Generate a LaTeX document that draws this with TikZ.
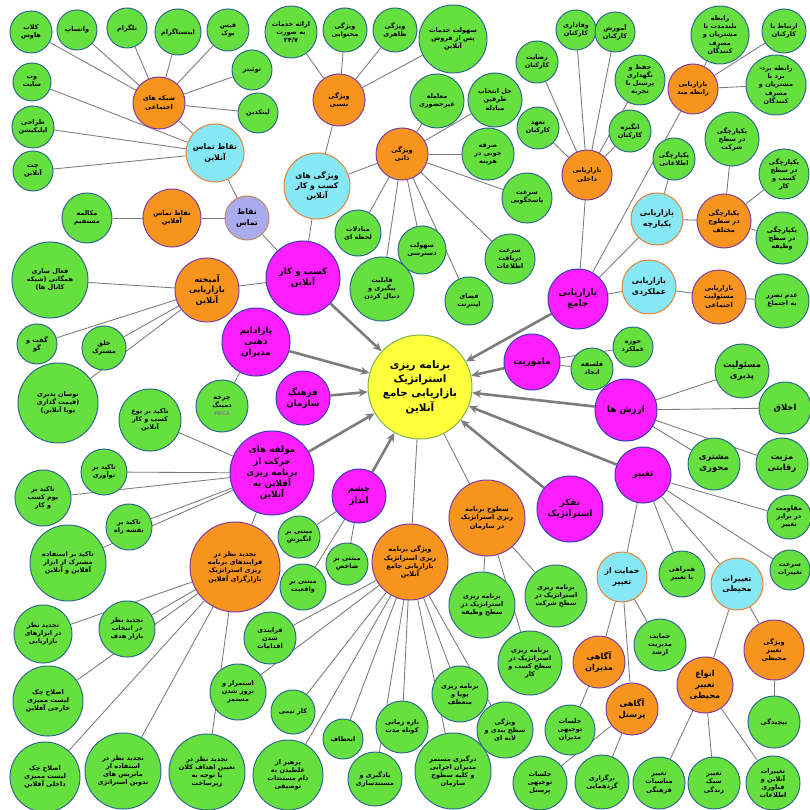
\documentclass[tikz,border=0pt]{standalone}
\usepackage{fontspec}
\newfontfamily\ar[Script=Arabic]{DejaVu Sans}
\TeXXeTstate=1
\usetikzlibrary{arrows.meta}
\pgfdeclarelayer{back}
\pgfdeclarelayer{bg}
\pgfsetlayers{back,bg,main}
\definecolor{grf}{HTML}{66E03E}
\definecolor{grb}{HTML}{2F6A8C}
\definecolor{orf}{HTML}{F7941E}
\definecolor{orb}{HTML}{7B3FA0}
\definecolor{mgf}{HTML}{FF1EFF}
\definecolor{mgb}{HTML}{3A3AB0}
\definecolor{cyf}{HTML}{86E8F4}
\definecolor{cyb}{HTML}{E5823A}
\definecolor{ylf}{HTML}{FFFF3C}
\definecolor{ylb}{HTML}{7AB648}
\definecolor{lvf}{HTML}{AAAAEE}
\definecolor{lvb}{HTML}{C08A60}
\definecolor{edc}{HTML}{7A7A7A}
\definecolor{arc}{HTML}{7C7C7C}
\newcommand{\rtx}[1]{\beginR#1\endR}
\newcommand{\fgr}{\ar\bfseries\fontsize{6.5}{8.1}\selectfont}
\newcommand{\fgb}{\ar\bfseries\fontsize{8.4}{11}\selectfont}
\newcommand{\forg}{\ar\bfseries\fontsize{6.6}{8.4}\selectfont}
\newcommand{\fob}{\ar\bfseries\fontsize{8.2}{10.8}\selectfont}
\newcommand{\fmag}{\ar\bfseries\fontsize{8.8}{11.2}\selectfont}
\newcommand{\fcy}{\ar\bfseries\fontsize{7.8}{10.2}\selectfont}
\newcommand{\fyl}{\ar\bfseries\fontsize{10.4}{14.4}\selectfont}
\newcommand{\nd}[6]{\node[#1, minimum size={2*#5pt}] (#2) at (#3,#4) {#6};}
\tikzset{
  base/.style={circle, line width=1pt, inner sep=0pt, align=center, text=black},
  gn/.style={base, fill=grf, draw=grb, font=\fgr},
  gnb/.style={base, fill=grf, draw=grb, font=\fgb},
  og/.style={base, fill=orf, draw=orb, font=\forg},
  ogb/.style={base, fill=orf, draw=orb, font=\fob},
  mg/.style={base, fill=mgf, draw=mgb, font=\fmag},
  cy/.style={base, fill=cyf, draw=cyb, font=\fcy},
  yl/.style={base, fill=ylf, draw=ylb, font=\fyl},
  lv/.style={base, fill=lvf, draw=lvb, font=\fcy},
  ed/.style={draw=edc, line width=0.85pt},
  arw/.style={draw=arc, line width=2.6pt, -{Stealth[length=9pt,width=8pt]}}
}
\begin{document}
\begin{tikzpicture}[x=1pt,y=-1pt]
\useasboundingbox (0,0) rectangle (809,810);
\begin{pgfonlayer}{back}
\fill[white] (0,0) rectangle (809,810);
\end{pgfonlayer}
% centre
\nd{yl}{C}{420}{387}{52}{\rtx{برنامه ریزی}\\\rtx{استراتژیک}\\\rtx{بازاریابی جامع}\\\rtx{آنلاین}}
% top-left
\nd{gn}{clab}{31}{32}{21}{\rtx{کلاب}\\\rtx{هاوس}}
\nd{gn}{wats}{77}{30}{20}{\rtx{واتساپ}}
\nd{gn}{tele}{127}{28}{20}{\rtx{تلگرام}}
\nd{gn}{insta}{178}{32}{23}{\rtx{اینستاگرام}}
\nd{gn}{fb}{228}{30}{21}{\rtx{فیس}\\\rtx{بوک}}
\nd{gn}{tw}{252}{70}{20}{\rtx{توئیتر}}
\nd{gn}{lnk}{258}{113}{20}{\rtx{لینکدین}}
\nd{og}{shab}{159}{103}{26}{\rtx{شبکه های}\\\rtx{اجتماعی}}
\nd{gn}{web}{32}{82}{19}{\rtx{وب}\\\rtx{سایت}}
\nd{gn}{app}{33}{127}{21}{\rtx{طراحی}\\\rtx{اپلیکیشن}}
\nd{gn}{chat}{33}{171}{20}{\rtx{چت}\\\rtx{آنلاین}}
\nd{cy}{ntOn}{215}{153}{29}{\rtx{نقاط تماس}\\\rtx{آنلاین}}
\nd{gn}{mok}{87}{218}{25}{\rtx{مکالمه}\\\rtx{مستقیم}}
\nd{og}{ntOff}{172}{218}{29}{\rtx{نقاط تماس}\\\rtx{آفلاین}}
\nd{lv}{nt}{247}{218}{22}{\rtx{نقاط}\\\rtx{تماس}}
\nd{ogb}{amikh}{207}{290}{32}{\rtx{آمیخته}\\\rtx{بازاریابی}\\\rtx{آنلاین}}
\nd{gn}{faal}{50}{280}{38}{\rtx{فعال سازی}\\\rtx{همگانی (شبکه}\\\rtx{کانال ها)}}
\nd{gn}{goft}{37}{344}{20}{\rtx{گفت و}\\\rtx{گو}}
\nd{gn}{khalgh}{104}{348}{22}{\rtx{خلق}\\\rtx{مشترک}}
\nd{gn}{nosan}{58}{403}{40}{\rtx{نوسان پذیری}\\\rtx{(قیمت گذاری}\\\rtx{پویا آنلاین)}}
\nd{mg}{parad}{256}{342}{34}{\rtx{پارادایم}\\\rtx{ذهنی}\\\rtx{مدیران}}
\nd{gn}{deming}{222}{406}{26}{\rtx{چرخه}\\\rtx{دمینگ}\\{\color{gray}\fontsize{5}{6}\selectfont PDCA}}
\nd{gn}{tnoe}{150}{420}{31}{\rtx{تاکید بر نوع}\\\rtx{کسب و کار}\\\rtx{آنلاین}}
\nd{mg}{farh}{303}{398}{27}{\rtx{فرهنگ}\\\rtx{سازمان}}
\nd{mg}{molf}{272}{473}{42}{\rtx{مولفه های}\\\rtx{حرکت از}\\\rtx{برنامه ریزی}\\\rtx{آفلاین به}\\\rtx{آنلاین}}
\nd{gn}{tnoav}{104}{472}{23}{\rtx{تاکید بر}\\\rtx{نوآوری}}
\nd{gn}{tboom}{43}{498}{28}{\rtx{تاکید بر}\\\rtx{بوم کسب}\\\rtx{و کار}}
\nd{gn}{tnaghs}{129}{527}{23}{\rtx{تاکید بر}\\\rtx{نقشه راه}}
\nd{gn}{testef}{68}{563}{38}{\rtx{تاکید بر استفاده}\\\rtx{مشترک از ابزار}\\\rtx{آفلاین و آنلاین}}
\nd{og}{tajd}{235}{567}{45}{\rtx{تجدید نظر در}\\\rtx{فرایندهای برنامه}\\\rtx{ریزی استراتژیک}\\\rtx{بازارگرای آفلاین}}
\nd{mg}{chesh}{359}{496}{27}{\rtx{چشم}\\\rtx{انداز}}
\nd{gn}{mangiz}{299}{537}{21}{\rtx{مبتنی بر}\\\rtx{انگیزش}}
\nd{gn}{mshakh}{347}{564}{21}{\rtx{مبتنی بر}\\\rtx{شاخص}}
\nd{gn}{mvagh}{303}{587}{23}{\rtx{مبتنی بر}\\\rtx{واقعیت}}
\nd{og}{vbar}{410}{562}{38}{\rtx{ویژگی برنامه}\\\rtx{ریزی استراتژیک}\\\rtx{بازاریابی جامع}\\\rtx{آنلاین}}
\nd{og}{sotoh}{487}{518}{38}{\rtx{سطوح برنامه}\\\rtx{ریزی استراتژیک}\\\rtx{در سازمان}}
\nd{mg}{tafak}{570}{509}{33}{\rtx{تفکر}\\\rtx{استراتژیک}}
\nd{mg}{taghir}{643}{475}{28}{\rtx{تغییر}}
\nd{mg}{arzesh}{626}{410}{31}{\rtx{ارزش ها}}
\nd{gnb}{akhlagh}{785}{408}{26}{\rtx{اخلاق}}
\nd{gnb}{masol}{742}{371}{27}{\rtx{مسئولیت}\\\rtx{پذیری}}
\nd{gnb}{moshtari}{714}{464}{26}{\rtx{مشتری}\\\rtx{محوری}}
\nd{gnb}{mazit}{782}{464}{26}{\rtx{مزیت}\\\rtx{رقابتی}}
\nd{gn}{moghav}{789}{517}{22}{\rtx{مقاومت}\\\rtx{در برابر}\\\rtx{تغییر}}
\nd{gn}{sorTagh}{790}{570}{20}{\rtx{سرعت}\\\rtx{تغییرات}}
\nd{cy}{taghMoh}{737}{584}{26}{\rtx{تغییرات}\\\rtx{محیطی}}
\nd{gn}{hamrahi}{682}{574}{23}{\rtx{همراهی}\\\rtx{با تغییر}}
\nd{cy}{hemayat}{622}{577}{25}{\rtx{حمایت از}\\\rtx{تغییر}}
\nd{gn}{sSherkat}{556}{596}{31}{\rtx{برنامه ریزی}\\\rtx{استراتژیک در}\\\rtx{سطح شرکت}}
\nd{gn}{sVazife}{482}{605}{33}{\rtx{برنامه ریزی}\\\rtx{استراتژیک در}\\\rtx{سطح وظیفه}}
\nd{gn}{sKasb}{530}{663}{32}{\rtx{برنامه ریزی}\\\rtx{استراتژیک در}\\\rtx{سطح کسب و}\\\rtx{کار}}
\nd{ogb}{agMod}{599}{662}{26}{\rtx{آگاهی}\\\rtx{مدیران}}
\nd{gn}{hemMod}{660}{645}{26}{\rtx{حمایت}\\\rtx{مدیریت}\\\rtx{ارشد}}
\nd{ogb}{agPer}{632}{709}{26}{\rtx{آگاهی}\\\rtx{پرسنل}}
\nd{gn}{jalMod}{570}{730}{25}{\rtx{جلسات}\\\rtx{توجیهی}\\\rtx{مدیران}}
\nd{gn}{jalPer}{540}{783}{27}{\rtx{جلسات}\\\rtx{توجیهی}\\\rtx{پرسنل}}
\nd{gn}{bargozari}{602}{782}{27}{\rtx{برگزاری}\\\rtx{گردهمایی}}
\nd{ogb}{anvaa}{705}{685}{28}{\rtx{انواع}\\\rtx{تغییر}\\\rtx{محیطی}}
\nd{og}{vTagh}{774}{650}{30}{\rtx{ویژگی}\\\rtx{تغییر}\\\rtx{محیطی}}
\nd{gn}{pichid}{774}{722}{26}{\rtx{پیچیدگی}}
\nd{gn}{tMonas}{659}{783}{26}{\rtx{تغییر}\\\rtx{مناسبات}\\\rtx{فرهنگی}}
\nd{gn}{tSabk}{714}{783}{26}{\rtx{تغییر}\\\rtx{سبک}\\\rtx{زندگی}}
\nd{gn}{tOnline}{773}{783}{27}{\rtx{تغییرات}\\\rtx{آنلاین و}\\\rtx{فناوری}\\\rtx{اطلاعات}}
\nd{gn}{vSath}{505}{730}{28}{\rtx{ویژگی}\\\rtx{سطح بندی و}\\\rtx{لایه ای}}
\nd{gn}{bPuya}{460}{694}{28}{\rtx{برنامه ریزی}\\\rtx{پویا و}\\\rtx{منعطف}}
\nd{gn}{dargiri}{453}{771}{38}{\rtx{درگیری مستمر}\\\rtx{مدیران اجرایی}\\\rtx{و کلیه سطوح}\\\rtx{سازمان}}
\nd{gn}{baze}{402}{727}{26}{\rtx{بازه زمانی}\\\rtx{کوتاه مدت}}
\nd{gn}{yadgiri}{375}{779}{27}{\rtx{یادگیری و}\\\rtx{مستندسازی}}
\nd{gn}{enetaf}{343}{739}{20}{\rtx{انعطاف}}
\nd{gn}{parhiz}{288}{775}{35}{\rtx{پرهیز از}\\\rtx{غلطیدن به}\\\rtx{دام مستندات}\\\rtx{توصیفی}}
\nd{gn}{kartimi}{293}{712}{22}{\rtx{کار تیمی}}
\nd{gn}{estemrar}{238}{692}{28}{\rtx{استمرار و}\\\rtx{بروز شدن}\\\rtx{مستمر}}
\nd{gn}{farayandi}{270}{638}{26}{\rtx{فرایندی}\\\rtx{شدن}\\\rtx{اقدامات}}
\nd{gn}{tAbzar}{43}{634}{29}{\rtx{تجدید نظر}\\\rtx{در ابزارهای}\\\rtx{بازاریابی}}
\nd{gn}{tEntekhab}{127}{629}{28}{\rtx{تجدید نظر}\\\rtx{در انتخاب}\\\rtx{بازار هدف}}
\nd{gn}{esKharej}{48}{701}{35}{\rtx{اصلاح چک}\\\rtx{لیست ممیزی}\\\rtx{خارجی آفلاین}}
\nd{gn}{esDakhel}{45}{777}{35}{\rtx{اصلاح چک}\\\rtx{لیست ممیزی}\\\rtx{داخلی آفلاین}}
\nd{gn}{tMatris}{123}{771}{38}{\rtx{تجدید نظر در}\\\rtx{استفاده از}\\\rtx{ماتریس های}\\\rtx{تدوین استراتژی}}
\nd{gn}{tAhdaf}{207}{772}{38}{\rtx{تجدید نظر در}\\\rtx{تعیین اهداف کلان}\\\rtx{با توجه به}\\\rtx{زیرساخت}}
% top middle
\nd{gn}{eraee}{291}{32}{26}{\rtx{ارائه خدمات}\\\rtx{به صورت}\\۲۴/۷}
\nd{gn}{vMohtav}{345}{30}{22}{\rtx{ویژگی}\\\rtx{محتوایی}}
\nd{gn}{vZaher}{395}{30}{22}{\rtx{ویژگی}\\\rtx{ظاهری}}
\nd{gn}{sohKhad}{453}{39}{34}{\rtx{سهولت خدمات}\\\rtx{پس از فروش}\\\rtx{آنلاین}}
\nd{og}{vNesbi}{339}{100}{26}{\rtx{ویژگی}\\\rtx{نسبی}}
\nd{cy}{vKasb}{317}{186}{33}{\rtx{ویژگی های}\\\rtx{کسب و کار}\\\rtx{آنلاین}}
\nd{gn}{moamele}{437}{101}{27}{\rtx{معامله}\\\rtx{غیرحضوری}}
\nd{gn}{hal}{495}{100}{27}{\rtx{حل انتخاب}\\\rtx{طرفین}\\\rtx{مبادله}}
\nd{og}{vZati}{402}{154}{26}{\rtx{ویژگی}\\\rtx{ذاتی}}
\nd{gn}{sarfe}{488}{154}{26}{\rtx{صرفه}\\\rtx{جویی در}\\\rtx{هزینه}}
\nd{gn}{sPasokh}{527}{198}{25}{\rtx{سرعت}\\\rtx{پاسخگویی}}
\nd{gn}{sDaryaft}{510}{259}{25}{\rtx{سرعت}\\\rtx{دریافت}\\\rtx{اطلاعات}}
\nd{gn}{fazaye}{469}{301}{24}{\rtx{فضای}\\\rtx{اینترنت}}
\nd{gn}{sohDastr}{422}{250}{24}{\rtx{سهولت}\\\rtx{دسترسی}}
\nd{gn}{mobadelat}{358}{233}{23}{\rtx{مبادلات}\\\rtx{لحظه ای}}
\nd{gn}{ghabel}{382}{289}{32}{\rtx{قابلیت}\\\rtx{پیگیری و}\\\rtx{دنبال کردن}}
\nd{mg}{kasb}{303}{278}{37}{\rtx{کسب و کار}\\\rtx{آنلاین}}
% top right
\nd{gn}{rezayat}{537}{62}{21}{\rtx{رضایت}\\\rtx{کارکنان}}
\nd{gn}{vafadari}{576}{30}{20}{\rtx{وفاداری}\\\rtx{کارکنان}}
\nd{gn}{amuzesh}{615}{32}{20}{\rtx{آموزش}\\\rtx{کارکنان}}
\nd{gn}{hefz}{640}{80}{25}{\rtx{حفظ و}\\\rtx{نگهداری}\\\rtx{پرسنل با}\\\rtx{تجربه}}
\nd{gn}{taahod}{538}{128}{21}{\rtx{تعهد}\\\rtx{کارکنان}}
\nd{gn}{angize}{630}{131}{21}{\rtx{انگیزه}\\\rtx{کارکنان}}
\nd{og}{bDakheli}{587}{175}{25}{\rtx{بازاریابی}\\\rtx{داخلی}}
\nd{gn}{rabBoland}{720}{35}{29}{\rtx{رابطه}\\\rtx{بلندمدت با}\\\rtx{مشتریان و}\\\rtx{مصرف}\\\rtx{کنندگان}}
\nd{gn}{ertebat}{784}{31}{22}{\rtx{ارتباط با}\\\rtx{کارکنان}}
\nd{og}{bRabete}{693}{89}{25}{\rtx{بازاریابی}\\\rtx{رابطه مند}}
\nd{gn}{rabBord}{776}{85}{30}{\rtx{رابطه برد-}\\\rtx{برد با}\\\rtx{مشتریان و}\\\rtx{مصرف}\\\rtx{کنندگان}}
\nd{gn}{ySherkat}{732}{139}{27}{\rtx{یکپارچگی}\\\rtx{در سطح}\\\rtx{شرکت}}
\nd{gn}{yEtela}{674}{159}{21}{\rtx{یکپارچگی}\\\rtx{اطلاعاتی}}
\nd{gn}{yKasb}{784}{174}{25}{\rtx{یکپارچگی}\\\rtx{در سطح}\\\rtx{کسب و}\\\rtx{کار}}
\nd{cy}{bYek}{657}{219}{26}{\rtx{بازاریابی}\\\rtx{یکپارچه}}
\nd{og}{ySotoh}{724}{221}{27}{\rtx{یکپارچگی}\\\rtx{در سطوح}\\\rtx{مختلف}}
\nd{gn}{yVazife}{782}{238}{26}{\rtx{یکپارچگی}\\\rtx{در سطح}\\\rtx{وظیفه}}
\nd{mg}{bJame}{578}{299}{30}{\rtx{بازاریابی}\\\rtx{جامع}}
\nd{cy}{bAmal}{649}{287}{27}{\rtx{بازاریابی}\\\rtx{عملکردی}}
\nd{og}{bMasol}{719}{297}{27}{\rtx{بازاریابی}\\\rtx{مسئولیت}\\\rtx{اجتماعی}}
\nd{gn}{adam}{782}{301}{27}{\rtx{عدم تضرر}\\\rtx{به اجتماع}}
\nd{gn}{hoze}{633}{347}{20}{\rtx{حوزه}\\\rtx{عملکرد}}
\nd{gn}{falsafe}{592}{369}{21}{\rtx{فلسفه}\\\rtx{ایجاد}}
\nd{mg}{mamur}{532}{362}{28}{\rtx{ماموریت}}
% connectors
\begin{pgfonlayer}{bg}
\foreach \a/\b in {shab/clab,shab/wats,shab/tele,shab/insta,shab/fb,shab/tw,shab/lnk,shab/ntOn,
 ntOn/web,ntOn/app,ntOn/chat,ntOn/nt,ntOff/mok,ntOff/nt,nt/kasb,
 vKasb/vNesbi,vKasb/vZati,vKasb/kasb,
 vNesbi/eraee,vNesbi/vMohtav,vNesbi/vZaher,vNesbi/sohKhad,
 vZati/moamele,vZati/hal,vZati/sarfe,vZati/sPasokh,vZati/sDaryaft,vZati/fazaye,vZati/sohDastr,vZati/ghabel,vZati/mobadelat,
 amikh/kasb,amikh/faal,amikh/goft,amikh/khalgh,amikh/nosan,
 parad/deming,
 molf/tnoe,molf/tnoav,molf/tboom,molf/tnaghs,molf/testef,molf/tajd,
 tajd/tAbzar,tajd/tEntekhab,tajd/esKharej,tajd/esDakhel,tajd/tMatris,tajd/tAhdaf,
 chesh/mangiz,chesh/mshakh,chesh/mvagh,
 vbar/C,vbar/farayandi,vbar/estemrar,vbar/kartimi,vbar/parhiz,vbar/enetaf,vbar/yadgiri,vbar/baze,vbar/dargiri,vbar/bPuya,vbar/vSath,
 sotoh/C,sotoh/sSherkat,sotoh/sVazife,sotoh/sKasb,
 taghir/moghav,taghir/sorTagh,taghir/taghMoh,taghir/hamrahi,taghir/hemayat,
 arzesh/masol,arzesh/akhlagh,arzesh/moshtari,arzesh/mazit,
 hemayat/agMod,hemayat/hemMod,hemayat/agPer,agMod/jalMod,agPer/jalPer,agPer/bargozari,
 taghMoh/anvaa,taghMoh/vTagh,vTagh/pichid,anvaa/tMonas,anvaa/tSabk,anvaa/tOnline,
 mamur/hoze,mamur/falsafe,
 bJame/bDakheli,bJame/bRabete,bJame/bYek,bJame/bAmal,
 bDakheli/rezayat,bDakheli/vafadari,bDakheli/amuzesh,bDakheli/hefz,bDakheli/taahod,bDakheli/angize,
 bRabete/rabBoland,bRabete/ertebat,bRabete/rabBord,
 bYek/yEtela,bYek/ySotoh,ySotoh/ySherkat,ySotoh/yKasb,ySotoh/yVazife,
 bAmal/bMasol,bMasol/adam}
 {\draw[ed] (\a) -- (\b);}
\foreach \a in {kasb,parad,farh,molf,chesh,tafak,taghir,arzesh,mamur,bJame}
 {\draw[arw] (\a) -- (C);}
\end{pgfonlayer}
\end{tikzpicture}
\end{document}
